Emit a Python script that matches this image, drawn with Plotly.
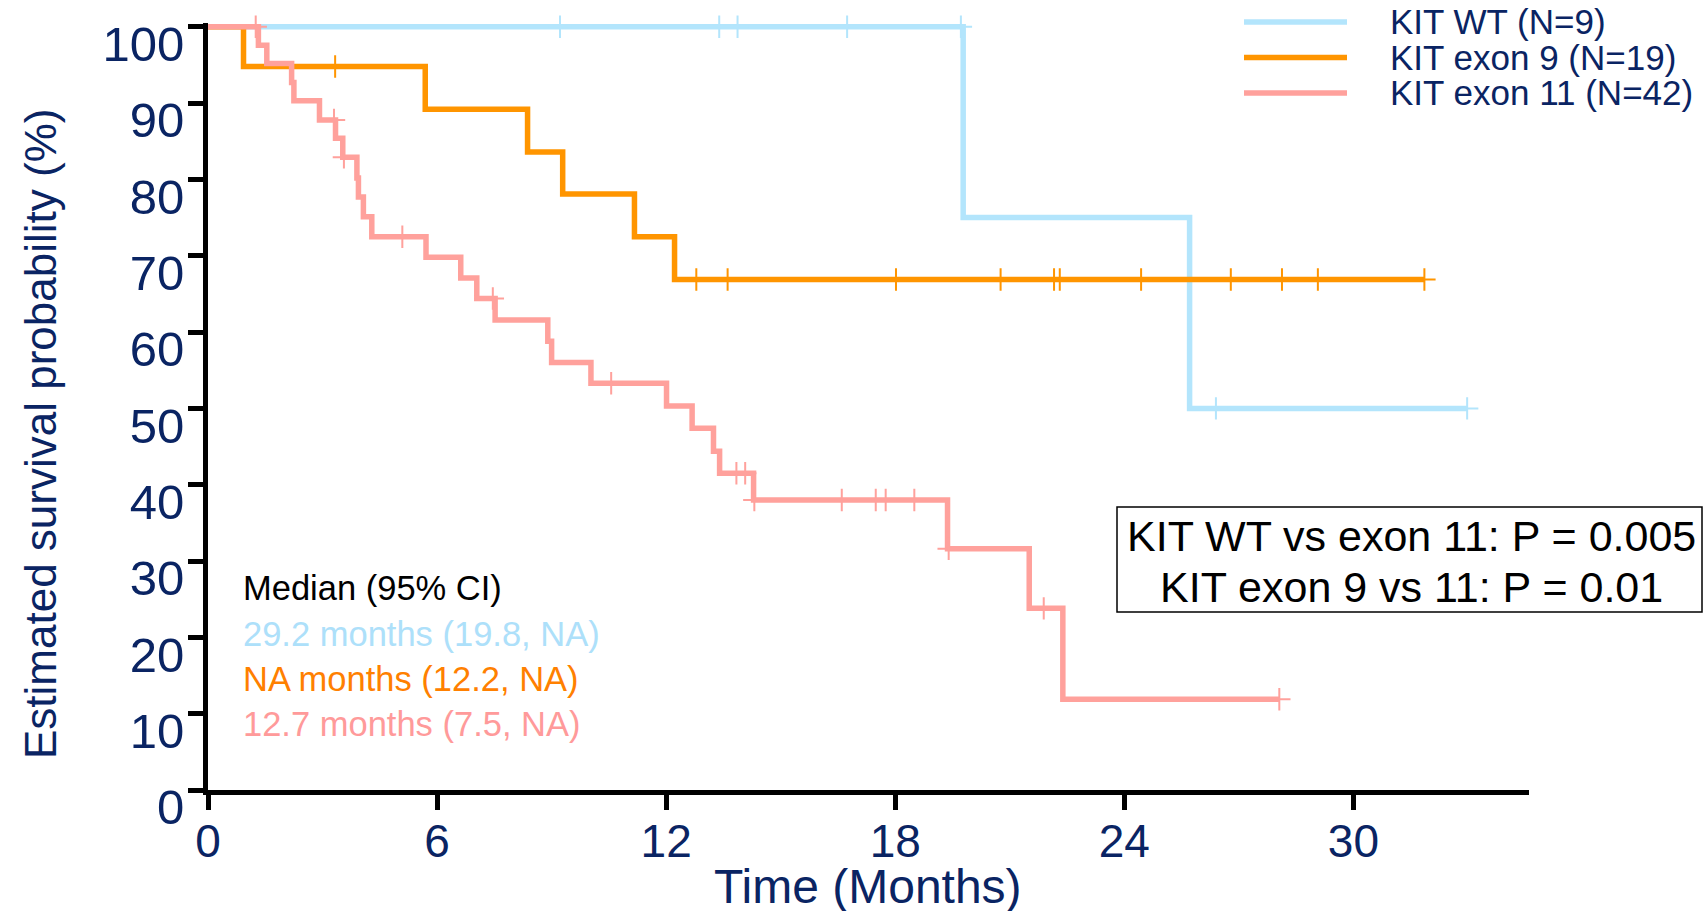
import plotly.graph_objects as go

# ---------------- data ----------------
wt_times = [0, 19.78, 25.71, 32.98]
wt_surv = [100, 75.0, 50.0, 50.0]
wt_censor = [9.22, 13.39, 13.87, 16.74, 19.72, 26.40, 32.98]

ex9_times = [0, 0.93, 5.69, 8.37, 9.29, 11.17, 12.22, 31.86]
ex9_surv = [100, 94.8, 89.2, 83.6, 78.1, 72.5, 66.9, 66.9]
ex9_censor = [3.33, 12.79, 13.61, 18.02, 20.76, 22.16, 22.31, 24.44,
              26.79, 28.13, 29.07, 31.86]

ex11_times = [0, 1.32, 1.54, 2.19, 2.25, 2.92, 3.34, 3.53, 3.90, 3.94, 4.07,
              4.29, 5.71, 6.62, 7.04, 7.52, 8.90, 9.00, 10.03, 12.01, 12.68,
              13.24, 13.40, 14.29, 19.37, 21.51, 22.39, 28.06]
ex11_surv = [100, 97.6, 95.2, 92.7, 90.3, 87.8, 85.4, 82.9, 80.2, 77.7, 75.1,
             72.5, 69.8, 67.1, 64.4, 61.6, 58.8, 56.0, 53.3, 50.3, 47.4,
             44.4, 41.5, 38.0, 31.6, 23.8, 11.9, 11.9]
ex11_censor = [1.25, 3.30, 3.56, 5.09, 7.46, 10.56, 13.84, 14.07, 14.31,
               16.60, 17.49, 17.75, 18.50, 19.40, 21.89, 28.06]

group_names = ["KIT WT (N=9)", "KIT exon 9 (N=19)", "KIT exon 11 (N=42)"]
median_lines = ["29.2 months (19.8, NA)", "NA months (12.2, NA)",
                "12.7 months (7.5, NA)"]
pvalue_lines = ["KIT WT vs exon 11: P = 0.005", "KIT exon 9 vs 11: P = 0.01"]
x_ticks = [0, 6, 12, 18, 24, 30]
y_ticks = [0, 10, 20, 30, 40, 50, 60, 70, 80, 90, 100]

# ---------------- styling ----------------
C_WT = "#B3E5FC"
C_E9 = "#FF9500"
C_E11 = "#FFA19C"
TXT_WT = "#ADE0FA"
TXT_E9 = "#FF8000"
TXT_E11 = "#FF9A9A"
NAVY = "#0A2463"
FONT = "Liberation Sans, Arial, sans-serif"

W, H = 1704, 911
L, R, T, B = 208, 175, 23, 121
PW, PH = W - L - R, H - T - B


def px(x):
    return (x - L) / PW


def py(y):
    return (H - B - y) / PH


def step_value(times, surv, t):
    v = surv[0]
    for ti, si in zip(times, surv):
        if ti <= t:
            v = si
    return v


fig = go.Figure()
series = [
    (wt_times, wt_surv, wt_censor, C_WT, group_names[0]),
    (ex9_times, ex9_surv, ex9_censor, C_E9, group_names[1]),
    (ex11_times, ex11_surv, ex11_censor, C_E11, group_names[2]),
]
for times, surv, cens, col, name in series:
    fig.add_trace(go.Scatter(
        x=times, y=surv, mode="lines", line=dict(color=col, width=5.5, shape="hv"),
        name=name, showlegend=False, hoverinfo="skip"))
    fig.add_trace(go.Scatter(
        x=cens, y=[step_value(times, surv, c) for c in cens], mode="markers",
        marker=dict(symbol="cross-thin", size=16, line=dict(color=col, width=2)),
        showlegend=False, hoverinfo="skip", cliponaxis=False))

fig.update_xaxes(
    range=[0, 34.6], tickvals=x_ticks, ticktext=[str(v) for v in x_ticks],
    showline=True, linecolor="black", linewidth=5, ticks="outside",
    ticklen=15, tickwidth=5, tickcolor="black", showgrid=False, zeroline=False,
    ticklabelstandoff=-8,
    tickfont=dict(family=FONT, size=46, color=NAVY))
fig.update_yaxes(
    range=[0, 100.5], tickvals=y_ticks, ticktext=[str(v) for v in y_ticks],
    showline=True, linecolor="black", linewidth=5, ticks="outside",
    ticklen=15, tickwidth=5, tickcolor="black", showgrid=False, zeroline=False,
    ticklabelshift=17, ticklabelstandoff=-6, ticklabeloverflow="allow",
    tickfont=dict(family=FONT, size=49, color=NAVY))

ann = []
shapes = []
# axis titles
ann.append(dict(text="Time (Months)", x=px(868), y=py(886), xref="paper", yref="paper",
                xanchor="center", yanchor="middle", showarrow=False,
                font=dict(family=FONT, size=48, color=NAVY)))
ann.append(dict(text="Estimated survival probability (%)", x=px(41), y=py(434),
                xref="paper", yref="paper", xanchor="center", yanchor="middle",
                textangle=-90, showarrow=False,
                font=dict(family=FONT, size=44, color=NAVY)))

# legend (drawn manually to match long line samples)
leg_y = [22, 57.5, 93]
for name, col, yy in zip(group_names, [C_WT, C_E9, C_E11], leg_y):
    shapes.append(dict(type="line", xref="paper", yref="paper",
                       x0=px(1244), x1=px(1347), y0=py(yy), y1=py(yy),
                       line=dict(color=col, width=5.5)))
    ann.append(dict(text=name, x=px(1388), y=py(yy), xref="paper", yref="paper",
                    xanchor="left", yanchor="middle", showarrow=False,
                    font=dict(family=FONT, size=35, color=NAVY)))

# median block
med_y = [588, 633.5, 679, 724]
med_txt = ["Median (95% CI)"] + median_lines
med_col = ["black", TXT_WT, TXT_E9, TXT_E11]
for t, c, yy in zip(med_txt, med_col, med_y):
    ann.append(dict(text=t, x=px(241), y=py(yy), xref="paper", yref="paper",
                    xanchor="left", yanchor="middle", showarrow=False,
                    font=dict(family=FONT, size=34.5, color=c)))

# p-value box
shapes.append(dict(type="rect", xref="paper", yref="paper",
                   x0=px(1117), x1=px(1702), y0=py(507), y1=py(612),
                   line=dict(color="black", width=1.5), fillcolor="rgba(0,0,0,0)"))
for t, yy in zip(pvalue_lines, [536, 586.5]):
    ann.append(dict(text=t, x=px(1411), y=py(yy), xref="paper", yref="paper",
                    xanchor="center", yanchor="middle", showarrow=False,
                    font=dict(family=FONT, size=43, color="black")))

fig.update_layout(
    width=W, height=H, margin=dict(l=L, r=R, t=T, b=B, pad=0),
    plot_bgcolor="white", paper_bgcolor="white", showlegend=False,
    annotations=ann, shapes=shapes)

fig.write_html("out.html",
               config={"displayModeBar": False, "staticPlot": True},
               post_script="document.body.style.margin='0px';"
                           "document.body.style.overflow='hidden';")
